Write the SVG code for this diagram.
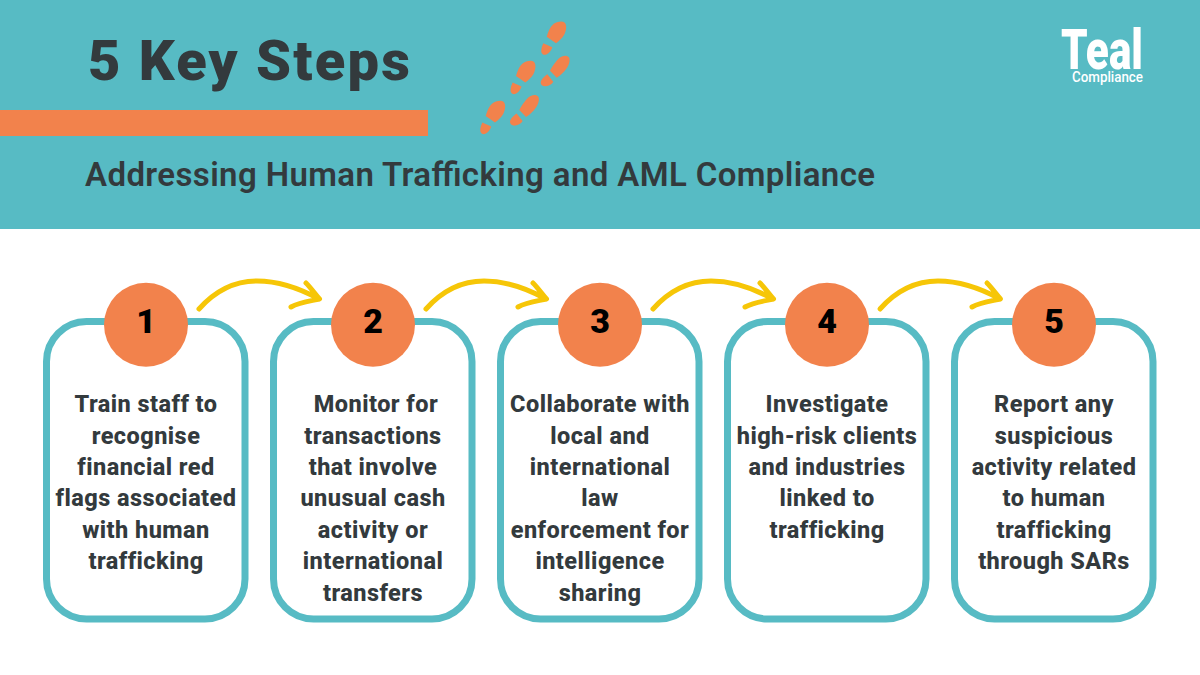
<svg xmlns="http://www.w3.org/2000/svg" xmlns:xlink="http://www.w3.org/1999/xlink" width="1200" height="675" viewBox="0 0 1200 675">
<style>
text{font-family:Roboto,"Noto Sans","Liberation Sans",sans-serif;font-weight:700;fill:#333a3d}
.b{font-size:23.500px;text-anchor:middle;letter-spacing:.45px;font-weight:800}
.n{font-size:34px;text-anchor:middle;fill:#000;font-weight:900}
.card{fill:#fff;stroke:#57bbc4;stroke-width:7}
.dot{fill:#f2824c}
.arr{fill:none;stroke:#f6c607;stroke-width:5;stroke-linecap:round;stroke-linejoin:round}
.foot{fill:#f2824c}
</style>
<defs>
<g id="footA" class="foot">
<path d="M546.700 36.700C548 32 550 27 553 24.500C556 22 562 20.500 564.500 22.500C567 25 566.500 30 564 35C562 38.500 559 41 556 43.300Z"/>
<path d="M543.300 43.300L552.300 47.300C551.500 50 549.500 52.500 548 53.500C546 55.300 543 55.500 541.700 53C540.500 50.500 542 46.500 543.300 43.300Z"/>
</g>
<g id="footB" class="foot">
<path d="M550 70.700C552 67 556 61 559 58.300C562 55.500 567 54.500 569 57.500C570.500 60 569 65 566.500 68.500C564 72.500 560 75.500 556.700 77.700Z"/>
<path d="M547.300 74.300L553.300 81.700C552 84 549 86 546 86.300C543 86.700 540.500 85 540.700 82.500C541 79.500 544.500 76.500 547.300 74.300Z"/>
</g>
<g id="arrow">
<path class="arr" d="M199 309C215 291 235 281 257 281C279 281 299 288 319 299M306 283C311 288 315 294 319.500 299C311 301 300 302 291 307"/>
</g>
</defs>
<rect width="1200" height="229" fill="#57bbc4"/>
<rect x="0" y="110" width="428" height="26" fill="#f2824c"/>
<text x="88" y="80" font-size="56" textLength="322" lengthAdjust="spacing" style="font-weight:900">5 Key Steps</text>
<text x="85" y="186" font-size="33" textLength="790" lengthAdjust="spacing" style="font-weight:600">Addressing Human Trafficking and AML Compliance</text>
<use xlink:href="#footA"/>
<use xlink:href="#footB"/>
<use xlink:href="#footA" transform="translate(-30.700 39.300)"/>
<use xlink:href="#footB" transform="translate(-30.700 39.300)"/>
<use xlink:href="#footA" transform="translate(-61 79.300)"/>
<g id="logo">
<text x="1061" y="69" font-size="56" style="fill:#fff;font-weight:900" textLength="82" lengthAdjust="spacingAndGlyphs">Teal</text>
<text x="1072" y="82" font-size="14" style="fill:#fff;font-weight:500" textLength="71" lengthAdjust="spacingAndGlyphs">Compliance</text>
</g>
<g id="connectors">
<use xlink:href="#arrow"/>
<use xlink:href="#arrow" x="227"/>
<use xlink:href="#arrow" x="454"/>
<use xlink:href="#arrow" x="681"/>
</g>
<g id="step1">
<rect class="card" x="46.500" y="321.500" width="198.500" height="297.500" rx="40"/>
<circle class="dot" cx="146" cy="324.700" r="42"/>
<text class="n" x="146" y="332.500">1</text>
<text class="b" x="146" y="412">Train staff to</text>
<text class="b" x="146" y="443.500">recognise</text>
<text class="b" x="146" y="475">financial red</text>
<text class="b" x="146" y="506">flags associated</text>
<text class="b" x="146" y="537.500">with human</text>
<text class="b" x="146" y="569">trafficking</text>
</g>
<g id="step2">
<rect class="card" x="273.500" y="321.500" width="198.500" height="297.500" rx="40"/>
<circle class="dot" cx="373" cy="324.700" r="42"/>
<text class="n" x="373" y="332.500">2</text>
<text class="b" x="376" y="412">Monitor for</text>
<text class="b" x="373" y="443.500">transactions</text>
<text class="b" x="373" y="475">that involve</text>
<text class="b" x="373" y="506">unusual cash</text>
<text class="b" x="373" y="537.500">activity or</text>
<text class="b" x="373" y="569">international</text>
<text class="b" x="373" y="600.500">transfers</text>
</g>
<g id="step3">
<rect class="card" x="500.500" y="321.500" width="198.500" height="297.500" rx="40"/>
<circle class="dot" cx="600" cy="324.700" r="42"/>
<text class="n" x="600" y="332.500">3</text>
<text class="b" x="600" y="412">Collaborate with</text>
<text class="b" x="600" y="443.500">local and</text>
<text class="b" x="600" y="475">international</text>
<text class="b" x="600" y="506">law</text>
<text class="b" x="600" y="537.500">enforcement for</text>
<text class="b" x="600" y="569">intelligence</text>
<text class="b" x="600" y="600.500">sharing</text>
</g>
<g id="step4">
<rect class="card" x="727.500" y="321.500" width="198.500" height="297.500" rx="40"/>
<circle class="dot" cx="827" cy="324.700" r="42"/>
<text class="n" x="827" y="332.500">4</text>
<text class="b" x="827" y="412">Investigate</text>
<text class="b" x="827" y="443.500">high-risk clients</text>
<text class="b" x="827" y="475">and industries</text>
<text class="b" x="827" y="506">linked to</text>
<text class="b" x="827" y="537.500">trafficking</text>
</g>
<g id="step5">
<rect class="card" x="954.500" y="321.500" width="198.500" height="297.500" rx="40"/>
<circle class="dot" cx="1054" cy="324.700" r="42"/>
<text class="n" x="1054" y="332.500">5</text>
<text class="b" x="1054" y="412">Report any</text>
<text class="b" x="1054" y="443.500">suspicious</text>
<text class="b" x="1054" y="475">activity related</text>
<text class="b" x="1054" y="506">to human</text>
<text class="b" x="1054" y="537.500">trafficking</text>
<text class="b" x="1054" y="569">through SARs</text>
</g>
</svg>
